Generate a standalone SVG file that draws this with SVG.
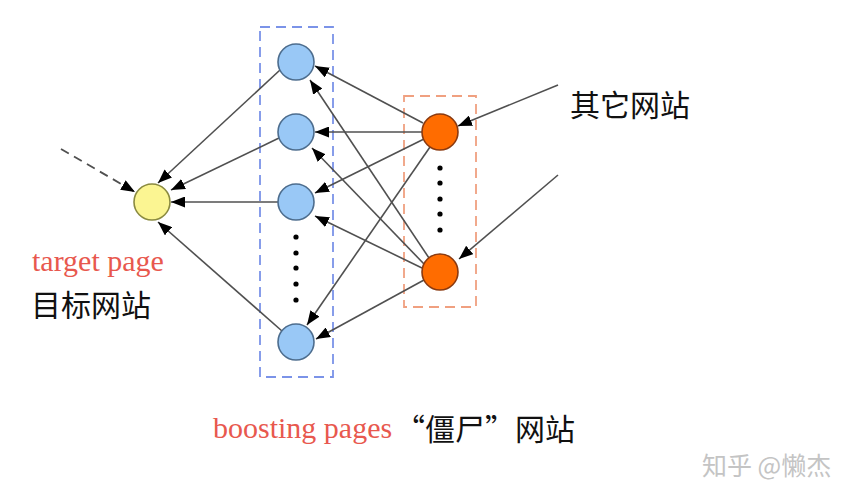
<svg xmlns="http://www.w3.org/2000/svg" width="860" height="500" viewBox="0 0 860 500">
<style>
.edge{stroke:#505050;stroke-width:1.6;fill:none;marker-end:url(#ah)}
.dash{stroke:#505050;stroke-width:1.8;fill:none;stroke-dasharray:9,6;marker-end:url(#ah)}
.blue{fill:#99c8f6;stroke:#4d6d8e;stroke-width:1.6}
.orange{fill:#ff6c00;stroke:#8a3a10;stroke-width:1.6}
.yellow{fill:#fbf592;stroke:#8a8a40;stroke-width:1.6}
.dot{fill:#000}
.en{font-family:"Liberation Serif",serif;font-size:30px;fill:#e8584e}
.zh{font-family:"Noto Sans CJK SC",sans-serif;font-size:30px;fill:#111}
.wm{font-family:"Noto Sans CJK SC",sans-serif;font-size:25px;fill:#c4c4c4}
</style>
<defs>
<marker id="ah" viewBox="0 0 14 11" refX="14" refY="5.5" markerWidth="14" markerHeight="11" markerUnits="userSpaceOnUse" orient="auto">
<path d="M0,0 L14,5.5 L0,11 z" fill="#000"/>
</marker>
</defs>
<rect width="860" height="500" fill="#fff"/>
<g id="boxes">
<rect x="260" y="27" width="73" height="350" fill="none" stroke="#7b93e8" stroke-width="1.8" stroke-dasharray="10,6"/>
<rect x="404" y="96" width="72" height="211" fill="none" stroke="#f0a080" stroke-width="1.8" stroke-dasharray="10,6"/>
</g>
<g id="connectors">
<line class="dash" x1="61" y1="149" x2="135" y2="192"/>
<line class="edge" x1="280" y1="70" x2="158" y2="183"/>
<line class="edge" x1="279" y1="138" x2="171" y2="190"/>
<line class="edge" x1="278" y1="202" x2="171" y2="202"/>
<line class="edge" x1="282" y1="331" x2="158" y2="222"/>
<line class="edge" x1="423" y1="123" x2="315" y2="66"/>
<line class="edge" x1="422" y1="132" x2="315" y2="132"/>
<line class="edge" x1="424" y1="139" x2="315" y2="193"/>
<line class="edge" x1="430" y1="147" x2="307" y2="325"/>
<line class="edge" x1="429" y1="258" x2="310" y2="80"/>
<line class="edge" x1="424" y1="264" x2="312" y2="148"/>
<line class="edge" x1="422" y1="268" x2="315" y2="216"/>
<line class="edge" x1="424" y1="280" x2="316" y2="339"/>
<line class="edge" x1="558" y1="85" x2="458" y2="126"/>
<line class="edge" x1="558" y1="175" x2="459" y2="259"/>
</g>
<g id="target"><circle class="yellow" cx="152" cy="202" r="18"/></g>
<g id="b1"><circle class="blue" cx="296" cy="62" r="18"/></g>
<g id="b2"><circle class="blue" cx="296" cy="132" r="18"/></g>
<g id="b3"><circle class="blue" cx="296" cy="202" r="18"/></g>
<g id="b4"><circle class="blue" cx="296" cy="342" r="18"/></g>
<g id="o1"><circle class="orange" cx="440" cy="132" r="18"/></g>
<g id="o2"><circle class="orange" cx="440" cy="272" r="18"/></g>
<g id="dots">
<circle class="dot" cx="296" cy="237" r="2.6"/>
<circle class="dot" cx="296" cy="253" r="2.6"/>
<circle class="dot" cx="296" cy="268" r="2.6"/>
<circle class="dot" cx="296" cy="284" r="2.6"/>
<circle class="dot" cx="296" cy="300" r="2.6"/>
<circle class="dot" cx="440" cy="168" r="2.6"/>
<circle class="dot" cx="440" cy="183" r="2.6"/>
<circle class="dot" cx="440" cy="199" r="2.6"/>
<circle class="dot" cx="440" cy="214" r="2.6"/>
<circle class="dot" cx="440" cy="230" r="2.6"/>
</g>
<g id="labels">
<text class="en" x="32" y="271">target page</text>
<text class="zh" x="31" y="316">目标网站</text>
<text class="zh" x="570" y="116">其它网站</text>
<text class="en" x="213" y="438">boosting pages</text>
<text class="zh" x="395" y="440">“僵尸”网站</text>
<text class="wm" x="702" y="475">知乎 @懒杰</text>
</g>
</svg>
